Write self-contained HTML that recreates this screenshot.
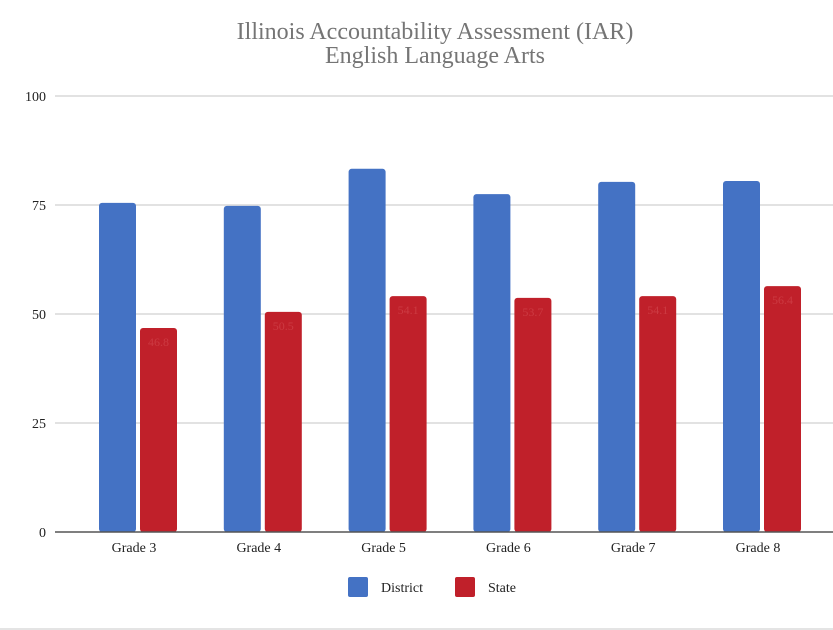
<!DOCTYPE html>
<html><head><meta charset="utf-8"><style>
body{margin:0;background:#fff;width:833px;height:630px;overflow:hidden}
svg{display:block}
text{font-family:"Liberation Serif",serif}
</style></head><body>
<svg id="chart" width="833" height="630">
<text x="435" y="39" text-anchor="middle" font-size="24" fill="#757575">Illinois Accountability Assessment (IAR)</text>
<text x="435" y="63" text-anchor="middle" font-size="24" fill="#757575">English Language Arts</text>
<g id="grid"></g><g id="bars"></g><g id="xlabels"></g>
<line x1="55" y1="532" x2="833" y2="532" stroke="#555" stroke-width="1.5"/>
<g>
<rect x="348" y="577" width="20" height="20" rx="2" fill="#4472c4"/>
<text x="381" y="592" font-size="14" fill="#222">District</text>
<rect x="455" y="577" width="20" height="20" rx="2" fill="#c0202a"/>
<text x="488" y="592" font-size="14" fill="#222">State</text>
</g>
<rect x="0" y="628" width="833" height="2" fill="#e4e4e4"/>
</svg>
<script>
const categories=["Grade 3","Grade 4","Grade 5","Grade 6","Grade 7","Grade 8"];
const district=[75.5,74.8,83.3,77.5,80.3,80.5];
const state=[46.8,50.5,54.1,53.7,54.1,56.4];
const yTicks=[0,25,50,75,100];
const NS="http://www.w3.org/2000/svg";
function y(v){return 532-v*4.36;}
function xc(i){return 138+i*124.8;}
function mk(t,a,p){const e=document.createElementNS(NS,t);for(const k in a)e.setAttribute(k,a[k]);p.appendChild(e);return e;}
const grid=document.getElementById('grid'),bars=document.getElementById('bars'),xl=document.getElementById('xlabels');
yTicks.forEach(t=>{
 if(t>0){const l=mk('line',{x1:55,x2:833,y1:y(t),y2:y(t),stroke:'#d0d0d0','stroke-width':1.2},grid);
 
 }
 const tx=mk('text',{x:46,y:y(t)+5,'text-anchor':'end','font-size':14,fill:'#222'},grid);tx.textContent=t;
 
 
});
categories.forEach((c,i)=>{
 const cx=xc(i);
 const b1=mk('rect',{x:cx-39,y:y(district[i]),width:37,height:532-y(district[i]),rx:3,fill:'#4472c4'},bars);
 
 
 const b2=mk('rect',{x:cx+2,y:y(state[i]),width:37,height:532-y(state[i]),rx:3,fill:'#c0202a'},bars);
 
 
 const v=mk('text',{x:cx+20.5,y:y(state[i])+18,'text-anchor':'middle','font-size':12,fill:'#cc3a42'},bars);v.textContent=state[i];
 
 
 const t=mk('text',{x:cx-4,y:552,'text-anchor':'middle','font-size':14,fill:'#222'},xl);t.textContent=c;
 
 
});
</script>
</body></html>
